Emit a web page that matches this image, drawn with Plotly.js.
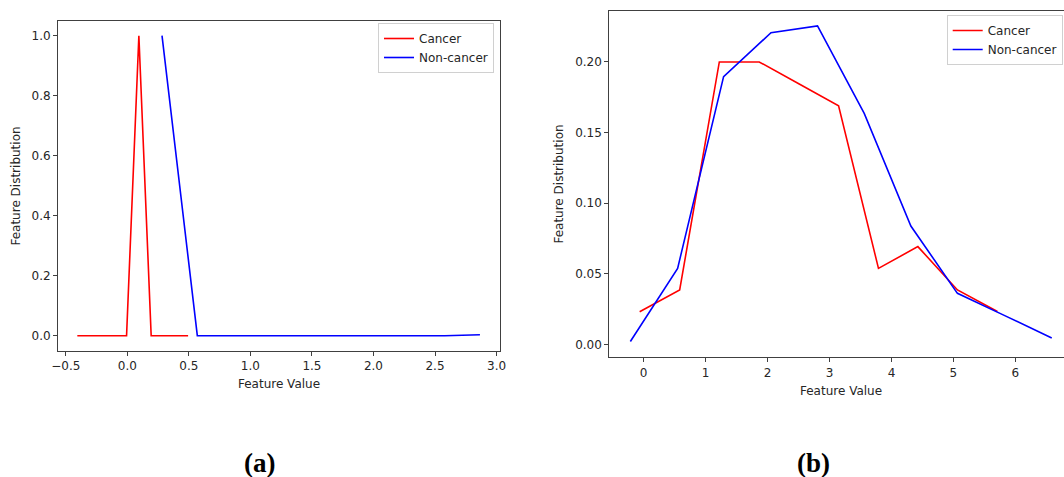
<!DOCTYPE html>
<html>
<head>
<meta charset="utf-8">
<script src="https://cdn.plot.ly/plotly-3.0.1.min.js"></script>
<style>
html,body{margin:0;padding:0;background:#fff;overflow:hidden;}
#chart{width:1100px;height:477px;}
</style>
</head>
<body>
<div id="chart"></div>
<script>
// Panel (a) data
const cancerA_x = [-0.406, -0.306, -0.206, -0.106, -0.006, 0.094, 0.194, 0.294, 0.394, 0.494];
const cancerA_y = [0, 0, 0, 0, 0, 1.0, 0, 0, 0, 0];
const nonCancerA_x = [0.282, 0.569, 0.856, 1.143, 1.430, 1.717, 2.004, 2.291, 2.578, 2.865];
const nonCancerA_y = [1.0, 0, 0, 0, 0, 0, 0, 0, 0, 0.003];
// Panel (b) data
const cancerB_x = [-0.065, 0.581, 1.221, 1.866, 2.511, 3.146, 3.790, 4.426, 5.065, 5.710];
const cancerB_y = [0.0231, 0.0385, 0.2000, 0.2000, 0.1844, 0.1690, 0.0538, 0.0692, 0.0385, 0.0232];
const nonCancerB_x = [-0.215, 0.548, 1.290, 2.055, 2.806, 3.560, 4.313, 5.065, 5.820, 6.587];
const nonCancerB_y = [0.0020, 0.0538, 0.1896, 0.2207, 0.2255, 0.1636, 0.0838, 0.0361, 0.0205, 0.0045];

const seriesNames = ["Cancer", "Non-cancer"];
const panelLabels = ["(a)", "(b)"];
const axisTitleX = "Feature Value";
const axisTitleY = "Feature Distribution";

const W = 1100, H = 477;
const px = v => v / W;
const py = v => 1 - v / H;

const RED = "#ff0000", BLUE = "#0000ff";
const FONT = {family: "DejaVu Sans, sans-serif", size: 12, color: "#262626"};

const traces = [
  {x: cancerA_x, y: cancerA_y, name: seriesNames[0], mode: "lines", line: {color: RED, width: 1.6}, xaxis: "x", yaxis: "y", legend: "legend"},
  {x: nonCancerA_x, y: nonCancerA_y, name: seriesNames[1], mode: "lines", line: {color: BLUE, width: 1.6}, xaxis: "x", yaxis: "y", legend: "legend"},
  {x: cancerB_x, y: cancerB_y, name: seriesNames[0], mode: "lines", line: {color: RED, width: 1.6}, xaxis: "x2", yaxis: "y2", legend: "legend2"},
  {x: nonCancerB_x, y: nonCancerB_y, name: seriesNames[1], mode: "lines", line: {color: BLUE, width: 1.6}, xaxis: "x2", yaxis: "y2", legend: "legend2"}
];

const axisCommon = {
  showgrid: false, zeroline: false, showline: true, mirror: true,
  linecolor: "#404040", linewidth: 1, ticks: "outside", ticklen: 4,
  tickcolor: "#404040", tickwidth: 1, tickfont: FONT, automargin: false
};

const legendCommon = {
  bgcolor: "#ffffff", bordercolor: "#d0d0d0", borderwidth: 1,
  font: FONT, xanchor: "left", yanchor: "top", itemwidth: 30, tracegroupgap: 0
};

const layout = {
  width: W, height: H,
  margin: {l: 0, r: 0, t: 0, b: 0},
  paper_bgcolor: "#ffffff", plot_bgcolor: "#ffffff",
  font: FONT,
  xaxis: Object.assign({}, axisCommon, {
    domain: [px(58), px(500)], range: [-0.563, 3.028], dtick: 0.5, tick0: 0, tickformat: ".1f",
    anchor: "y", title: {text: axisTitleX, font: FONT, standoff: 7}
  }),
  yaxis: Object.assign({}, axisCommon, {
    domain: [py(351), py(21)], range: [-0.051, 1.049], dtick: 0.2, tick0: 0, tickformat: ".1f",
    anchor: "x", title: {text: axisTitleY, font: FONT, standoff: 8}
  }),
  xaxis2: Object.assign({}, axisCommon, {
    domain: [px(609.3), px(1072.8)], range: [-0.555, 6.927], dtick: 1, tick0: 0,
    anchor: "y2", title: {text: axisTitleX, font: FONT, standoff: 7}
  }),
  yaxis2: Object.assign({}, axisCommon, {
    domain: [py(357.3), py(10.7)], range: [-0.0092, 0.2363], dtick: 0.05, tick0: 0, tickformat: ".2f",
    anchor: "x2", title: {text: axisTitleY, font: FONT, standoff: 8}
  }),
  legend: Object.assign({}, legendCommon, {x: px(378), y: py(23)}),
  legend2: Object.assign({}, legendCommon, {x: px(946.7), y: py(15)}),
  annotations: [
    {text: panelLabels[0], xref: "paper", yref: "paper", x: px(259), y: py(463), xanchor: "center", yanchor: "middle",
     showarrow: false, font: {family: "Liberation Serif, Times New Roman, serif", size: 27, color: "#000", weight: "bold"}},
    {text: panelLabels[1], xref: "paper", yref: "paper", x: px(813.7), y: py(463), xanchor: "center", yanchor: "middle",
     showarrow: false, font: {family: "Liberation Serif, Times New Roman, serif", size: 27, color: "#000", weight: "bold"}}
  ],
  showlegend: true
};

Plotly.newPlot("chart", traces, layout, {staticPlot: true, displayModeBar: false});
</script>
</body>
</html>
